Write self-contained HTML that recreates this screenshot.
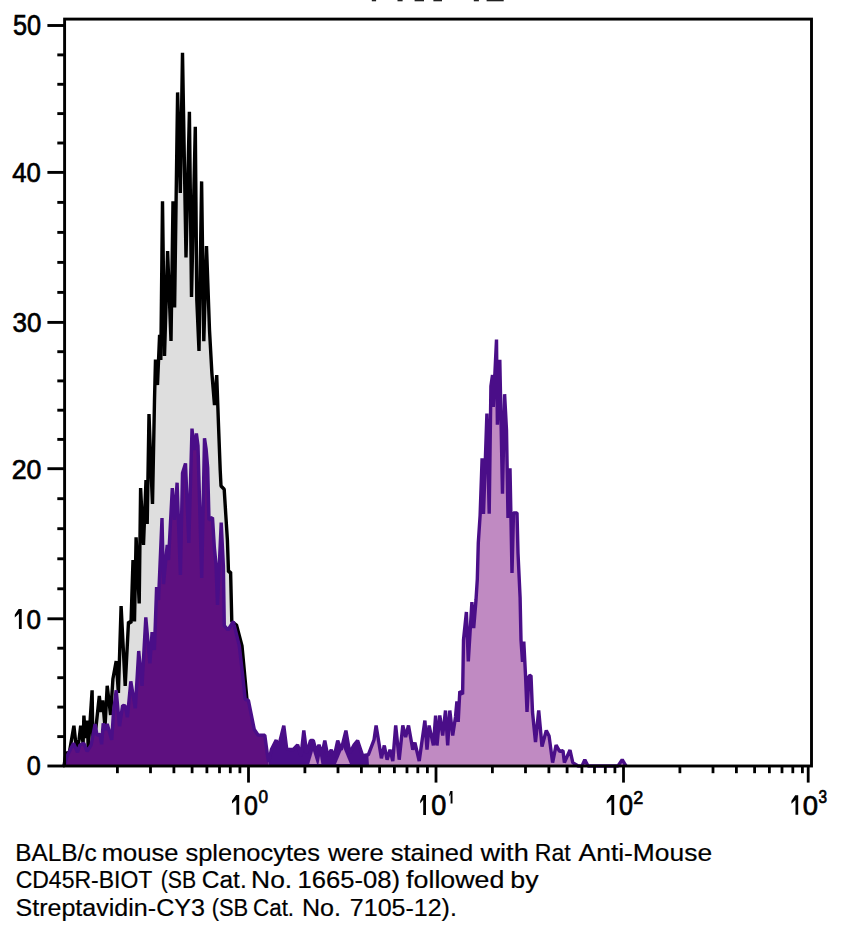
<!DOCTYPE html>
<html><head><meta charset="utf-8"><style>
html,body{margin:0;padding:0;background:#fff;}
body{width:842px;height:934px;overflow:hidden;font-family:"Liberation Sans",sans-serif;}
svg{display:block;}
</style></head><body>
<svg width="842" height="934" viewBox="0 0 842 934" font-family="Liberation Sans, sans-serif">
<rect x="0" y="0" width="842" height="934" fill="#fff"/>
<rect x="371.8" y="0" width="4.3" height="1.3" fill="#222"/>
<rect x="397.5" y="0" width="5.1" height="1.3" fill="#222"/>
<rect x="414.6" y="0" width="9.4" height="1.3" fill="#222"/>
<rect x="433.4" y="0" width="8.6" height="1.3" fill="#222"/>
<rect x="473.8" y="0" width="5.1" height="1.3" fill="#222"/>
<rect x="486.6" y="0" width="17.1" height="1.3" fill="#222"/>
<polygon points="64.0,766.0 66.2,752.2 69.0,754.6 73.9,725.7 76.7,751.4 79.0,740.0 80.7,725.7 83.1,743.3 83.9,715.6 85.5,738.0 87.5,720.5 88.2,749.8 92.1,690.3 92.9,743.3 96.0,727.0 99.3,696.0 101.0,712.0 102.7,700.4 105.0,727.0 107.2,685.8 110.6,715.0 112.9,679.0 116.2,661.0 118.4,693.0 121.1,606.0 125.2,686.0 128.5,621.8 131.0,623.0 133.0,560.0 134.5,621.5 136.1,537.4 139.2,603.5 140.6,488.0 143.5,545.0 146.0,480.0 147.2,524.0 149.0,414.0 151.0,470.0 152.5,504.0 154.5,400.0 155.5,359.5 157.5,385.0 159.6,334.8 160.8,360.0 162.5,201.3 164.5,356.0 167.6,251.0 171.0,341.0 173.0,201.3 174.6,307.5 177.6,92.4 180.3,193.0 182.5,52.8 186.0,257.5 189.4,111.7 191.5,297.0 195.3,126.7 196.8,300.0 199.0,350.9 201.6,181.4 203.8,341.2 206.5,246.0 209.5,330.0 211.9,373.3 214.5,405.0 216.7,375.0 218.5,425.0 220.2,470.0 221.0,486.0 224.2,489.3 225.8,515.0 227.4,540.0 228.5,572.0 230.6,572.0 231.8,621.5 236.5,625.0 242.0,646.0 247.0,700.0 249.5,740.0 252.0,766.0" fill="#dedede" stroke="none"/>
<polyline points="64.0,766.0 66.2,752.2 69.0,754.6 73.9,725.7 76.7,751.4 79.0,740.0 80.7,725.7 83.1,743.3 83.9,715.6 85.5,738.0 87.5,720.5 88.2,749.8 92.1,690.3 92.9,743.3 96.0,727.0 99.3,696.0 101.0,712.0 102.7,700.4 105.0,727.0 107.2,685.8 110.6,715.0 112.9,679.0 116.2,661.0 118.4,693.0 121.1,606.0 125.2,686.0 128.5,621.8 131.0,623.0 133.0,560.0 134.5,621.5 136.1,537.4 139.2,603.5 140.6,488.0 143.5,545.0 146.0,480.0 147.2,524.0 149.0,414.0 151.0,470.0 152.5,504.0 154.5,400.0 155.5,359.5 157.5,385.0 159.6,334.8 160.8,360.0 162.5,201.3 164.5,356.0 167.6,251.0 171.0,341.0 173.0,201.3 174.6,307.5 177.6,92.4 180.3,193.0 182.5,52.8 186.0,257.5 189.4,111.7 191.5,297.0 195.3,126.7 196.8,300.0 199.0,350.9 201.6,181.4 203.8,341.2 206.5,246.0 209.5,330.0 211.9,373.3 214.5,405.0 216.7,375.0 218.5,425.0 220.2,470.0 221.0,486.0 224.2,489.3 225.8,515.0 227.4,540.0 228.5,572.0 230.6,572.0 231.8,621.5 236.5,625.0 242.0,646.0 247.0,700.0 249.5,740.0 252.0,766.0" fill="none" stroke="#000" stroke-width="3.4" stroke-linejoin="bevel"/>
<polygon points="268.6,762.0 271.4,749.5 276.2,740.0 278.0,748.6 283.8,725.7 286.7,748.6 289.5,749.5 293.3,749.5 297.6,744.8 301.0,756.0 303.8,730.5 306.7,753.3 310.5,740.5 313.3,740.5 316.2,751.4 319.0,744.8 322.0,754.1 324.8,740.6 327.7,755.6 331.3,749.9 334.1,757.0 337.7,740.6 341.2,749.9 345.9,730.6 349.8,752.7 354.1,744.9 357.6,740.6 362.6,755.6 368.3,754.8 374.0,739.9 376.1,725.6 381.4,758.3 384.3,745.5 387.1,759.7 390.0,749.7 392.8,761.0 395.7,725.5 399.2,759.7 402.8,725.5 405.6,737.0 408.5,725.5 412.8,749.7 414.9,742.6 419.2,761.0 424.9,720.5 427.0,749.7 429.1,725.5 433.4,745.5 435.6,715.5 437.0,745.5 439.8,715.5 442.7,735.5 445.5,710.5 447.7,745.5 449.8,710.5 452.7,735.5 455.5,717.0 456.9,701.3 458.2,722.0 459.8,691.3 462.6,694.2 463.5,640.0 466.4,612.0 468.3,661.4 471.9,602.0 473.7,628.0 476.0,600.0 477.3,579.3 478.3,542.9 480.1,515.5 482.1,458.4 483.5,514.0 486.9,413.5 489.2,513.7 490.9,386.2 492.5,375.0 493.3,407.0 496.5,339.6 497.4,424.7 499.8,359.7 502.5,493.7 504.6,394.2 506.5,430.0 508.0,518.0 510.0,468.3 512.0,573.0 513.5,512.9 517.0,512.9 518.0,553.0 520.1,597.5 521.0,640.0 522.5,662.0 523.8,641.5 525.5,675.0 527.0,712.0 529.0,676.0 531.0,675.5 532.5,712.0 535.5,742.0 538.7,710.3 542.0,746.5 546.3,730.5 549.1,736.1 552.6,762.6 556.1,745.2 559.6,751.4 563.0,750.7 564.4,762.6 570.0,750.0 572.8,762.6 578.0,766.0 582.0,766.0 584.8,759.7 588.0,766.0 618.0,766.0 622.2,759.7 626.0,766.0 626.0,766.0 268.5,766.0" fill="#c08ac2" stroke="none"/>
<polygon points="268.6,762.0 271.4,749.5 276.2,740.0 278.0,748.6 283.8,725.7 286.7,748.6 289.5,749.5 293.3,749.5 297.6,744.8 301.0,756.0 303.8,730.5 306.7,753.3 310.5,740.5 313.3,740.5 316.2,751.4 319.0,744.8 322.0,754.1 324.8,740.6 327.7,755.6 331.3,749.9 334.1,757.0 337.7,740.6 341.2,749.9 345.9,730.6 349.8,752.7 354.1,744.9 357.6,740.6 362.6,755.6 368.3,754.8 369.0,766.0 268.5,766.0" fill="#4a0e88" stroke="none"/>
<polygon points="309.2,764.0 313.0,751.0 317.0,764.0" fill="#c08ac2" stroke="none"/>
<polygon points="318.5,764.0 320.0,756.0 321.4,764.0" fill="#c08ac2" stroke="none"/>
<polygon points="336.0,764.0 343.0,747.0 350.0,764.0" fill="#c08ac2" stroke="none"/>
<polygon points="64.0,766.0 67.8,754.6 73.5,743.3 77.5,752.2 79.9,745.0 83.9,743.3 87.1,751.4 91.1,745.0 95.1,724.0 97.0,735.0 100.0,734.5 101.6,744.3 103.2,723.3 105.0,730.0 107.2,724.0 111.7,739.8 113.5,712.0 116.2,690.3 119.5,726.3 122.6,705.4 125.2,706.0 127.4,717.3 130.8,681.3 135.3,708.3 138.7,651.0 142.0,685.8 145.8,617.3 149.9,663.4 152.1,632.0 154.4,650.0 156.6,587.0 158.5,600.0 162.0,518.0 163.5,584.0 167.2,545.0 168.5,560.0 172.3,488.0 174.5,520.0 177.1,482.7 180.4,575.0 182.5,473.0 185.5,463.4 188.8,543.0 192.0,428.6 194.0,450.0 196.4,433.4 198.0,445.7 201.7,578.0 204.5,438.2 206.1,449.0 207.7,468.0 209.0,520.0 212.5,517.5 214.4,548.0 216.0,564.0 217.5,605.0 221.2,522.5 223.4,566.3 224.3,625.7 228.0,630.0 233.4,621.5 234.0,624.3 239.3,645.7 242.5,673.6 245.2,699.3 248.4,700.4 254.3,729.5 258.0,735.0 264.8,735.2 267.6,756.0 268.6,762.0 268.5,766.0 64.0,766.0" fill="#5e1080" stroke="none"/>
<polyline points="64.0,766.0 67.8,754.6 73.5,743.3 77.5,752.2 79.9,745.0 83.9,743.3 87.1,751.4 91.1,745.0 95.1,724.0 97.0,735.0 100.0,734.5 101.6,744.3 103.2,723.3 105.0,730.0 107.2,724.0 111.7,739.8 113.5,712.0 116.2,690.3 119.5,726.3 122.6,705.4 125.2,706.0 127.4,717.3 130.8,681.3 135.3,708.3 138.7,651.0 142.0,685.8 145.8,617.3 149.9,663.4 152.1,632.0 154.4,650.0 156.6,587.0 158.5,600.0 162.0,518.0 163.5,584.0 167.2,545.0 168.5,560.0 172.3,488.0 174.5,520.0 177.1,482.7 180.4,575.0 182.5,473.0 185.5,463.4 188.8,543.0 192.0,428.6 194.0,450.0 196.4,433.4 198.0,445.7 201.7,578.0 204.5,438.2 206.1,449.0 207.7,468.0 209.0,520.0 212.5,517.5 214.4,548.0 216.0,564.0 217.5,605.0 221.2,522.5 223.4,566.3 224.3,625.7 228.0,630.0 233.4,621.5 234.0,624.3 239.3,645.7 242.5,673.6 245.2,699.3 248.4,700.4 254.3,729.5 258.0,735.0 264.8,735.2 267.6,756.0 268.6,762.0 271.4,749.5 276.2,740.0 278.0,748.6 283.8,725.7 286.7,748.6 289.5,749.5 293.3,749.5 297.6,744.8 301.0,756.0 303.8,730.5 306.7,753.3 310.5,740.5 313.3,740.5 316.2,751.4 319.0,744.8 322.0,754.1 324.8,740.6 327.7,755.6 331.3,749.9 334.1,757.0 337.7,740.6 341.2,749.9 345.9,730.6 349.8,752.7 354.1,744.9 357.6,740.6 362.6,755.6 368.3,754.8 374.0,739.9 376.1,725.6 381.4,758.3 384.3,745.5 387.1,759.7 390.0,749.7 392.8,761.0 395.7,725.5 399.2,759.7 402.8,725.5 405.6,737.0 408.5,725.5 412.8,749.7 414.9,742.6 419.2,761.0 424.9,720.5 427.0,749.7 429.1,725.5 433.4,745.5 435.6,715.5 437.0,745.5 439.8,715.5 442.7,735.5 445.5,710.5 447.7,745.5 449.8,710.5 452.7,735.5 455.5,717.0 456.9,701.3 458.2,722.0 459.8,691.3 462.6,694.2 463.5,640.0 466.4,612.0 468.3,661.4 471.9,602.0 473.7,628.0 476.0,600.0 477.3,579.3 478.3,542.9 480.1,515.5 482.1,458.4 483.5,514.0 486.9,413.5 489.2,513.7 490.9,386.2 492.5,375.0 493.3,407.0 496.5,339.6 497.4,424.7 499.8,359.7 502.5,493.7 504.6,394.2 506.5,430.0 508.0,518.0 510.0,468.3 512.0,573.0 513.5,512.9 517.0,512.9 518.0,553.0 520.1,597.5 521.0,640.0 522.5,662.0 523.8,641.5 525.5,675.0 527.0,712.0 529.0,676.0 531.0,675.5 532.5,712.0 535.5,742.0 538.7,710.3 542.0,746.5 546.3,730.5 549.1,736.1 552.6,762.6 556.1,745.2 559.6,751.4 563.0,750.7 564.4,762.6 570.0,750.0 572.8,762.6 578.0,766.0 582.0,766.0 584.8,759.7 588.0,766.0 618.0,766.0 622.2,759.7 626.0,766.0" fill="none" stroke="#4a0e88" stroke-width="3.4" stroke-linejoin="bevel"/>
<rect x="64.6" y="19.1" width="746.9" height="746.9" fill="none" stroke="#000" stroke-width="2.9"/>
<line x1="47.4" y1="766.0" x2="64.6" y2="766.0" stroke="#000" stroke-width="2.9"/>
<line x1="57.3" y1="736.6" x2="64.6" y2="736.6" stroke="#000" stroke-width="2.9"/>
<line x1="57.3" y1="707.1" x2="64.6" y2="707.1" stroke="#000" stroke-width="2.9"/>
<line x1="57.3" y1="677.7" x2="64.6" y2="677.7" stroke="#000" stroke-width="2.9"/>
<line x1="57.3" y1="648.2" x2="64.6" y2="648.2" stroke="#000" stroke-width="2.9"/>
<line x1="47.4" y1="618.8" x2="64.6" y2="618.8" stroke="#000" stroke-width="2.9"/>
<line x1="57.3" y1="588.8" x2="64.6" y2="588.8" stroke="#000" stroke-width="2.9"/>
<line x1="57.3" y1="558.8" x2="64.6" y2="558.8" stroke="#000" stroke-width="2.9"/>
<line x1="57.3" y1="528.7" x2="64.6" y2="528.7" stroke="#000" stroke-width="2.9"/>
<line x1="57.3" y1="498.7" x2="64.6" y2="498.7" stroke="#000" stroke-width="2.9"/>
<line x1="47.4" y1="468.7" x2="64.6" y2="468.7" stroke="#000" stroke-width="2.9"/>
<line x1="57.3" y1="439.4" x2="64.6" y2="439.4" stroke="#000" stroke-width="2.9"/>
<line x1="57.3" y1="410.2" x2="64.6" y2="410.2" stroke="#000" stroke-width="2.9"/>
<line x1="57.3" y1="380.9" x2="64.6" y2="380.9" stroke="#000" stroke-width="2.9"/>
<line x1="57.3" y1="351.7" x2="64.6" y2="351.7" stroke="#000" stroke-width="2.9"/>
<line x1="47.4" y1="322.4" x2="64.6" y2="322.4" stroke="#000" stroke-width="2.9"/>
<line x1="57.3" y1="292.4" x2="64.6" y2="292.4" stroke="#000" stroke-width="2.9"/>
<line x1="57.3" y1="262.4" x2="64.6" y2="262.4" stroke="#000" stroke-width="2.9"/>
<line x1="57.3" y1="232.4" x2="64.6" y2="232.4" stroke="#000" stroke-width="2.9"/>
<line x1="57.3" y1="202.4" x2="64.6" y2="202.4" stroke="#000" stroke-width="2.9"/>
<line x1="47.4" y1="172.4" x2="64.6" y2="172.4" stroke="#000" stroke-width="2.9"/>
<line x1="57.3" y1="143.0" x2="64.6" y2="143.0" stroke="#000" stroke-width="2.9"/>
<line x1="57.3" y1="113.6" x2="64.6" y2="113.6" stroke="#000" stroke-width="2.9"/>
<line x1="57.3" y1="84.3" x2="64.6" y2="84.3" stroke="#000" stroke-width="2.9"/>
<line x1="57.3" y1="54.9" x2="64.6" y2="54.9" stroke="#000" stroke-width="2.9"/>
<line x1="47.4" y1="25.5" x2="64.6" y2="25.5" stroke="#000" stroke-width="2.9"/>
<text transform="translate(12.99,35.21) scale(0.8734,1)" font-size="28.87" fill="#000" stroke="#000" stroke-width="0.7">50</text>
<text transform="translate(12.29,181.52) scale(0.9165,1)" font-size="28.03" fill="#000" stroke="#000" stroke-width="0.7">40</text>
<text transform="translate(12.46,331.83) scale(0.9463,1)" font-size="27.46" fill="#000" stroke="#000" stroke-width="0.7">30</text>
<text transform="translate(11.66,478.63) scale(0.9937,1)" font-size="26.90" fill="#000" stroke="#000" stroke-width="0.7">20</text>
<polygon points="18.6,608.9 21.7,608.9 21.7,628.9 18.9,628.9 18.9,613.7 14.8,617.5 14.8,614.7" fill="#000"/>
<text transform="translate(26.56,628.82) scale(0.9153,1)" font-size="28.45" fill="#000" stroke="#000" stroke-width="0.7">0</text>
<text transform="translate(26.79,775.33) scale(0.9322,1)" font-size="27.04" fill="#000" stroke="#000" stroke-width="0.7">0</text>
<line x1="117.4" y1="766" x2="117.4" y2="773.2" stroke="#000" stroke-width="2.8"/>
<line x1="150.5" y1="766" x2="150.5" y2="773.2" stroke="#000" stroke-width="2.8"/>
<line x1="173.9" y1="766" x2="173.9" y2="773.2" stroke="#000" stroke-width="2.8"/>
<line x1="192.1" y1="766" x2="192.1" y2="773.2" stroke="#000" stroke-width="2.8"/>
<line x1="206.9" y1="766" x2="206.9" y2="773.2" stroke="#000" stroke-width="2.8"/>
<line x1="219.5" y1="766" x2="219.5" y2="773.2" stroke="#000" stroke-width="2.8"/>
<line x1="230.3" y1="766" x2="230.3" y2="773.2" stroke="#000" stroke-width="2.8"/>
<line x1="239.9" y1="766" x2="239.9" y2="773.2" stroke="#000" stroke-width="2.8"/>
<line x1="248.5" y1="766" x2="248.5" y2="782.6" stroke="#000" stroke-width="2.8"/>
<line x1="304.9" y1="766" x2="304.9" y2="773.2" stroke="#000" stroke-width="2.8"/>
<line x1="338.0" y1="766" x2="338.0" y2="773.2" stroke="#000" stroke-width="2.8"/>
<line x1="361.4" y1="766" x2="361.4" y2="773.2" stroke="#000" stroke-width="2.8"/>
<line x1="379.6" y1="766" x2="379.6" y2="773.2" stroke="#000" stroke-width="2.8"/>
<line x1="394.4" y1="766" x2="394.4" y2="773.2" stroke="#000" stroke-width="2.8"/>
<line x1="407.0" y1="766" x2="407.0" y2="773.2" stroke="#000" stroke-width="2.8"/>
<line x1="417.8" y1="766" x2="417.8" y2="773.2" stroke="#000" stroke-width="2.8"/>
<line x1="427.4" y1="766" x2="427.4" y2="773.2" stroke="#000" stroke-width="2.8"/>
<line x1="436.0" y1="766" x2="436.0" y2="782.6" stroke="#000" stroke-width="2.8"/>
<line x1="492.4" y1="766" x2="492.4" y2="773.2" stroke="#000" stroke-width="2.8"/>
<line x1="525.5" y1="766" x2="525.5" y2="773.2" stroke="#000" stroke-width="2.8"/>
<line x1="548.9" y1="766" x2="548.9" y2="773.2" stroke="#000" stroke-width="2.8"/>
<line x1="567.1" y1="766" x2="567.1" y2="773.2" stroke="#000" stroke-width="2.8"/>
<line x1="581.9" y1="766" x2="581.9" y2="773.2" stroke="#000" stroke-width="2.8"/>
<line x1="594.5" y1="766" x2="594.5" y2="773.2" stroke="#000" stroke-width="2.8"/>
<line x1="605.3" y1="766" x2="605.3" y2="773.2" stroke="#000" stroke-width="2.8"/>
<line x1="614.9" y1="766" x2="614.9" y2="773.2" stroke="#000" stroke-width="2.8"/>
<line x1="623.5" y1="766" x2="623.5" y2="782.6" stroke="#000" stroke-width="2.8"/>
<line x1="679.9" y1="766" x2="679.9" y2="773.2" stroke="#000" stroke-width="2.8"/>
<line x1="713.0" y1="766" x2="713.0" y2="773.2" stroke="#000" stroke-width="2.8"/>
<line x1="736.4" y1="766" x2="736.4" y2="773.2" stroke="#000" stroke-width="2.8"/>
<line x1="754.6" y1="766" x2="754.6" y2="773.2" stroke="#000" stroke-width="2.8"/>
<line x1="769.4" y1="766" x2="769.4" y2="773.2" stroke="#000" stroke-width="2.8"/>
<line x1="782.0" y1="766" x2="782.0" y2="773.2" stroke="#000" stroke-width="2.8"/>
<line x1="792.8" y1="766" x2="792.8" y2="773.2" stroke="#000" stroke-width="2.8"/>
<line x1="802.4" y1="766" x2="802.4" y2="773.2" stroke="#000" stroke-width="2.8"/>
<line x1="808.2" y1="766" x2="808.2" y2="782.6" stroke="#000" stroke-width="2.8"/>
<polygon points="236.1,795.0 239.2,795.0 239.2,814.7 236.4,814.7 236.4,799.7 232.0,803.5 232.0,800.7" fill="#000"/>
<text transform="translate(244.00,814.62) scale(0.8920,1)" font-size="28.03" fill="#000" stroke="#000" stroke-width="0.7">0</text>
<text transform="translate(258.52,803.31) scale(0.9189,1)" font-size="18.59" fill="#000" stroke="#000" stroke-width="0.7">0</text>
<polygon points="422.9,794.9 426.0,794.9 426.0,815.0 423.2,815.0 423.2,799.7 420.2,803.5 420.2,800.7" fill="#000"/>
<text transform="translate(431.22,814.91) scale(0.9472,1)" font-size="28.59" fill="#000" stroke="#000" stroke-width="0.7">0</text>
<polygon points="450.3,791.0 452.5,791.0 452.5,803.6 450.6,803.6 450.6,794.0 449.2,796.4 449.2,794.7" fill="#000"/>
<polygon points="611.1,795.0 614.2,795.0 614.2,815.1 611.4,815.1 611.4,799.8 606.8,803.6 606.8,800.8" fill="#000"/>
<text transform="translate(618.99,815.01) scale(0.8817,1)" font-size="28.59" fill="#000" stroke="#000" stroke-width="0.7">0</text>
<text transform="translate(633.30,803.50) scale(0.9557,1)" font-size="18.86" fill="#000" stroke="#000" stroke-width="0.7">2</text>
<polygon points="795.2,795.3 798.2,795.3 798.2,814.8 795.5,814.8 795.5,800.0 791.4,803.7 791.4,801.0" fill="#000"/>
<text transform="translate(802.70,814.72) scale(0.9911,1)" font-size="27.75" fill="#000" stroke="#000" stroke-width="0.7">0</text>
<text transform="translate(818.59,803.31) scale(0.8204,1)" font-size="18.73" fill="#000" stroke="#000" stroke-width="0.7">3</text>
<text transform="translate(15.25,860.50) scale(1.0165,1)" font-size="24.00" fill="#000" stroke="#000" stroke-width="0.2">BALB/c</text>
<text transform="translate(101.74,860.50) scale(1.0655,1)" font-size="24.00" fill="#000" stroke="#000" stroke-width="0.2">mouse</text>
<text transform="translate(185.44,860.50) scale(1.0618,1)" font-size="24.00" fill="#000" stroke="#000" stroke-width="0.2">splenocytes</text>
<text transform="translate(328.00,860.50) scale(1.0711,1)" font-size="24.00" fill="#000" stroke="#000" stroke-width="0.2">were</text>
<text transform="translate(390.63,860.50) scale(1.0663,1)" font-size="24.00" fill="#000" stroke="#000" stroke-width="0.2">stained</text>
<text transform="translate(480.50,860.50) scale(1.1306,1)" font-size="24.00" fill="#000" stroke="#000" stroke-width="0.2">with</text>
<text transform="translate(534.86,860.50) scale(0.9609,1)" font-size="24.00" fill="#000" stroke="#000" stroke-width="0.2">Rat</text>
<text transform="translate(578.60,860.50) scale(1.1003,1)" font-size="24.00" fill="#000" stroke="#000" stroke-width="0.2">Anti-Mouse</text>
<text transform="translate(15.65,888.30) scale(0.9589,1)" font-size="24.00" fill="#000" stroke="#000" stroke-width="0.2">CD45R-BIOT</text>
<text transform="translate(160.73,888.30) scale(0.8842,1)" font-size="24.00" fill="#000" stroke="#000" stroke-width="0.2">(SB</text>
<text transform="translate(201.78,888.30) scale(1.0207,1)" font-size="24.00" fill="#000" stroke="#000" stroke-width="0.2">Cat.</text>
<text transform="translate(251.09,888.30) scale(1.1011,1)" font-size="24.00" fill="#000" stroke="#000" stroke-width="0.2">No.</text>
<text transform="translate(297.58,888.30) scale(1.0673,1)" font-size="24.00" fill="#000" stroke="#000" stroke-width="0.2">1665-08)</text>
<text transform="translate(406.10,888.30) scale(1.1165,1)" font-size="24.00" fill="#000" stroke="#000" stroke-width="0.2">followed</text>
<text transform="translate(510.26,888.30) scale(1.1153,1)" font-size="24.00" fill="#000" stroke="#000" stroke-width="0.2">by</text>
<text transform="translate(15.47,916.20) scale(1.0446,1)" font-size="24.00" fill="#000" stroke="#000" stroke-width="0.2">Streptavidin-CY3</text>
<text transform="translate(211.68,916.20) scale(0.9137,1)" font-size="24.00" fill="#000" stroke="#000" stroke-width="0.2">(SB</text>
<text transform="translate(253.08,916.20) scale(0.9320,1)" font-size="24.00" fill="#000" stroke="#000" stroke-width="0.2">Cat.</text>
<text transform="translate(301.89,916.20) scale(1.0469,1)" font-size="24.00" fill="#000" stroke="#000" stroke-width="0.2">No.</text>
<text transform="translate(349.85,916.20) scale(1.0417,1)" font-size="24.00" fill="#000" stroke="#000" stroke-width="0.2">7105-12).</text>
</svg>
</body></html>
